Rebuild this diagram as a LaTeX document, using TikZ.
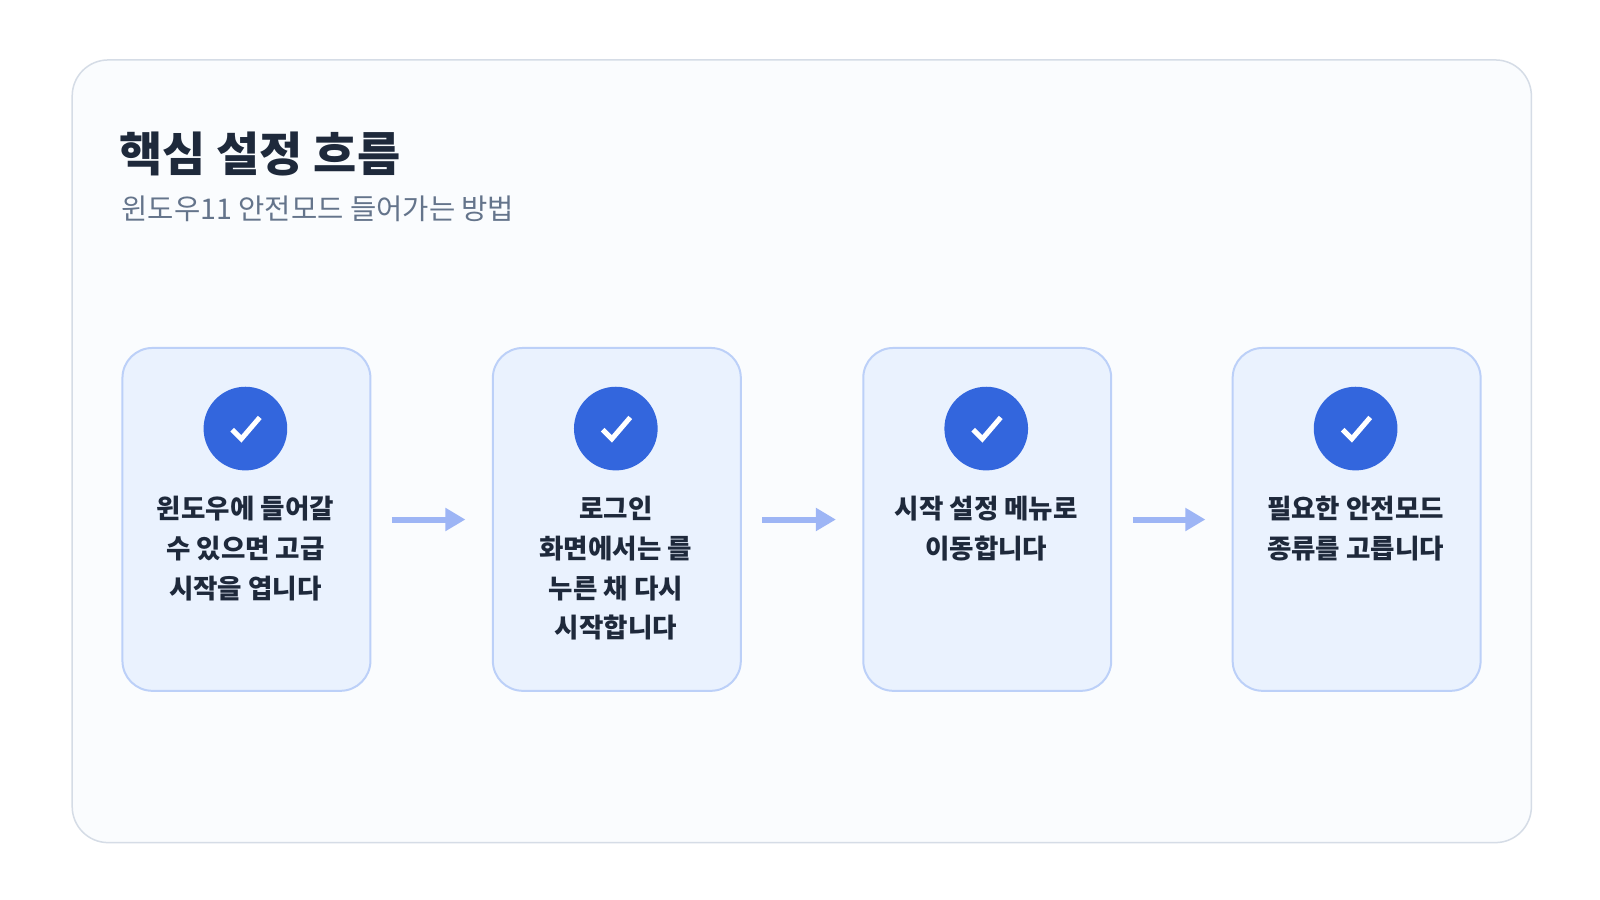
\documentclass[tikz,border=0pt]{standalone}
\usepackage{fontspec}
\newfontfamily\kr{Noto Sans CJK KR}
\usetikzlibrary{arrows.meta}
\definecolor{panelbg}{HTML}{FAFCFE}
\definecolor{panelln}{HTML}{D5DCE6}
\definecolor{cardbg}{HTML}{EAF2FE}
\definecolor{cardln}{HTML}{BCD0F8}
\definecolor{chk}{HTML}{3366DD}
\definecolor{dark}{HTML}{1E293B}
\definecolor{grey}{HTML}{64748B}
\definecolor{arr}{HTML}{9DB5F5}
\tikzset{
 card/.style={draw=cardln,line width=2pt,fill=cardbg,rounded corners=30pt,minimum width=243pt,minimum height=336pt,anchor=north west,inner sep=0},
 dot/.style={circle,fill=chk,minimum size=82pt,inner sep=0},
 lbl/.style={anchor=north,align=center,font=\kr\bfseries\fontsize{26}{39}\selectfont,text=dark,inner sep=0},
 flow/.style={draw=arr,line width=6pt,-{Triangle[length=20pt,width=22pt]}},
}
\begin{document}
\begin{tikzpicture}[x=1pt,y=-1pt,scale=1.0204,transform shape]
\fill[white] (0,0) rectangle (1568,882);
\node[draw=panelln,line width=1.5pt,fill=panelbg,rounded corners=36pt,minimum width=1430pt,minimum height=767pt,anchor=north west,inner sep=0] (panel) at (70,58) {};
\node[anchor=base west,inner sep=0,font=\kr\bfseries\fontsize{46}{50}\selectfont,text=dark] (title) at (117,168) {핵심 설정 흐름};
\node[anchor=base west,inner sep=0,font=\kr\fontsize{28}{32}\selectfont,text=grey] (sub) at (119,215) {윈도우11 안전모드 들어가는 방법};
\foreach \i/\x/\t in {1/119/{윈도우에 들어갈\\수 있으면 고급\\시작을 엽니다},2/482/{로그인\\화면에서는 를\\누른 채 다시\\시작합니다},3/845/{시작 설정 메뉴로\\이동합니다},4/1207/{필요한 안전모드\\종류를 고릅니다}}{
 \node[card] (c\i) at (\x,340) {};
 \node[dot] (d\i) at (\x+121.5,420) {};
 \draw[white,line width=5pt] ([shift={(-13,1)}]d\i.center) -- ([shift={(-4,10)}]d\i.center) -- ([shift={(14,-11)}]d\i.center);
 \node[lbl] (t\i) at (\x+121.5,486) {\t};
}
\draw[flow] ([xshift=20pt]c1.east) -- ([xshift=-26pt]c2.west);
\draw[flow] ([xshift=20pt]c2.east) -- ([xshift=-26pt]c3.west);
\draw[flow] ([xshift=20pt]c3.east) -- ([xshift=-26pt]c4.west);
\pgfresetboundingbox
\useasboundingbox (0,0) rectangle (1568,882);
\end{tikzpicture}
\end{document}
